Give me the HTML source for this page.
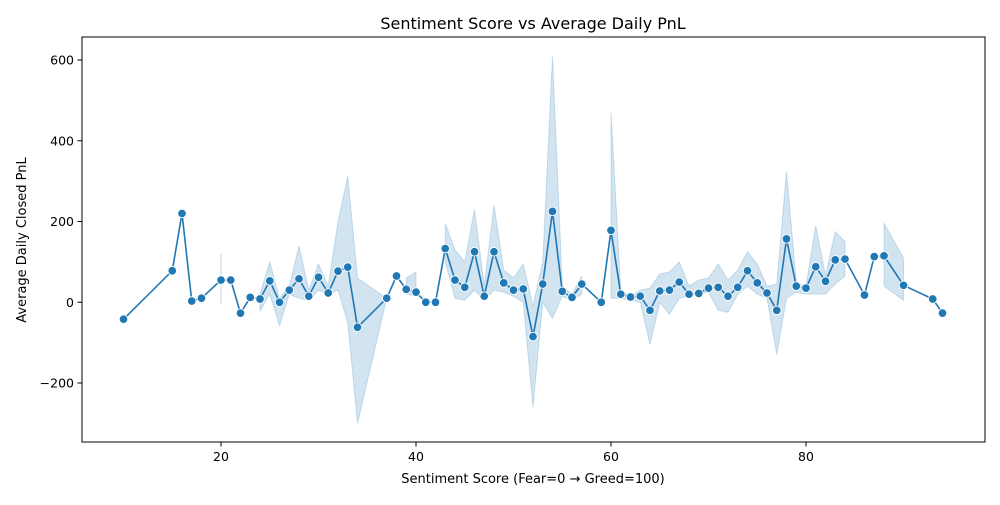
<!DOCTYPE html>
<html><head><meta charset="utf-8"><style>
body{margin:0;background:#fff;font-family:"Liberation Sans","DejaVu Sans",sans-serif}
svg text{font-family:"DejaVu Sans","Liberation Sans",sans-serif}
</style></head><body>
<svg id="chart" width="1000" height="500" xmlns="http://www.w3.org/2000/svg">
<rect width="1000" height="500" fill="#fff"/>
<text x="533" y="29" font-size="16" text-anchor="middle">Sentiment Score vs Average Daily PnL</text>
<text x="533" y="483" font-size="13" text-anchor="middle">Sentiment Score (Fear=0 → Greed=100)</text>
<text transform="translate(26,240) rotate(-90)" font-size="13" text-anchor="middle">Average Daily Closed PnL</text>
<g id="bands"></g><g id="line"></g><g id="ticks"></g>
<rect x="82" y="37" width="903" height="405" fill="none" stroke="#000" stroke-width="1"/>
</svg>
<script>
const scores=[10,15,16,17,18,20,21,22,23,24,25,26,27,28,29,30,31,32,33,34,37,38,39,40,41,42,43,44,45,46,47,48,49,50,51,52,53,54,55,56,57,59,60,61,62,63,64,65,66,67,68,69,70,71,72,73,74,75,76,77,78,79,80,81,82,83,84,86,87,88,90,93,94];
const pnl=[-42,78,220,3,10,55,55,-27,12,8,53,0,30,58,15,62,23,77,87,-62,10,65,32,25,0,0,133,55,37,125,15,125,48,30,33,-85,45,225,27,12,45,0,178,20,13,15,-20,28,30,50,20,22,35,37,15,37,78,48,23,-20,157,40,35,88,52,105,107,18,113,115,42,8,-27];
const ciLow=[null,null,null,null,null,-5,null,null,null,-22,20,-58,20,10,5,30,20,30,-50,-300,10,null,20,15,null,null,100,10,5,30,5,30,25,15,0,-260,0,-40,15,5,20,null,10,10,5,0,-105,0,-30,10,15,20,25,-20,-25,20,40,20,10,-130,10,25,20,20,20,45,65,null,null,40,5,null,null];
const ciHigh=[null,null,null,null,null,120,null,null,null,20,100,10,40,140,30,95,40,200,312,60,10,null,60,75,null,null,195,130,100,230,40,240,80,60,95,-10,100,610,40,20,65,null,470,30,15,30,35,70,75,100,40,55,60,95,55,80,125,95,40,45,325,50,40,190,65,175,150,null,null,195,110,null,null];
const xTicks=[20,40,60,80];
const yTicks=[-200,0,200,400,600];
const X=v=>26+v*9.75, Y=v=>302.25-v*0.40375;
const NS="http://www.w3.org/2000/svg";
function mk(t,a,p){const e=document.createElementNS(NS,t);for(const k in a)e.setAttribute(k,a[k]);p.appendChild(e);return e;}
const bands=document.getElementById('bands'),line=document.getElementById('line'),ticks=document.getElementById('ticks');
// bands: contiguous runs of consecutive scores with CI
let runs=[],cur=[];
for(let i=0;i<scores.length;i++){
  if(ciLow[i]!==null&&(cur.length===0||scores[i]-scores[cur[cur.length-1]]<=3&&ciLow[i-1]!==null)){cur.push(i);}
  else{if(cur.length)runs.push(cur);cur=ciLow[i]!==null?[i]:[];}
}
if(cur.length)runs.push(cur);
runs.forEach(r=>{
  let pts=r.map(i=>X(scores[i])+','+Y(ciHigh[i])).concat(r.slice().reverse().map(i=>X(scores[i])+','+Y(ciLow[i])));
  const p=mk('polygon',{points:pts.join(' '),fill:'rgba(31,119,180,0.2)',stroke:'rgba(31,119,180,0.2)','stroke-width':r.length===1?1.5:1},bands);
  
  
});
const pl=mk('polyline',{points:scores.map((s,i)=>X(s)+','+Y(pnl[i])).join(' '),fill:'none',stroke:'#1f77b4','stroke-width':1.6},line);


scores.forEach((s,i)=>{
  const c=mk('circle',{cx:X(s),cy:Y(pnl[i]),r:4.3,fill:'#1f77b4',stroke:'#fff','stroke-width':0.9},line);
  
  
});
xTicks.forEach(t=>{
  mk('line',{x1:X(t),x2:X(t),y1:442,y2:446.5,stroke:'#000'},ticks);
  const tx=mk('text',{x:X(t),y:461,'font-size':12.5,'text-anchor':'middle'},ticks);tx.textContent=t;
  
  
});
yTicks.forEach(t=>{
  mk('line',{x1:77.5,x2:82,y1:Y(t),y2:Y(t),stroke:'#000'},ticks);
  const tx=mk('text',{x:74,y:Y(t)+4.5,'font-size':12.5,'text-anchor':'end'},ticks);tx.textContent=t<0?'\u2212'+(-t):t;
  
  
});
</script>
</body></html>
